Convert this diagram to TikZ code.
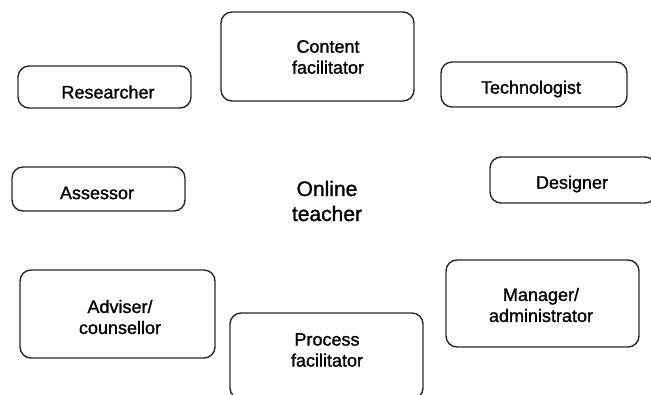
\documentclass[tikz,border=0pt]{standalone}
\usepackage{fontspec}
\setmainfont{Liberation Sans}
\newfontfamily\lblfont{Liberation Sans}[FakeBold=1.2]
\begin{document}
\begin{tikzpicture}[x=1pt,y=-1pt,
  box/.style={draw=black!85, line width=1.4pt, rounded corners=11pt, inner sep=0pt},
  lbl/.style={align=center, font=\lblfont\fontsize{18}{21}\selectfont, text=black, inner sep=0pt},
  big/.style={align=center, font=\lblfont\fontsize{21}{25}\selectfont, text=black, inner sep=0pt}]
\useasboundingbox (0,0) rectangle (651,394);
\clip (0,0) rectangle (651,394);
% boxes
\node[box, minimum width=193pt, minimum height=89pt] (content) at (317.5,56.5) {};
\node[box, minimum width=173pt, minimum height=42pt] (research) at (104.5,87) {};
\node[box, minimum width=186pt, minimum height=45pt] (techno) at (534,84.5) {};
\node[box, minimum width=173pt, minimum height=44pt] (assess) at (98.5,189) {};
\node[box, minimum width=166pt, minimum height=46pt] (design) at (573,180) {};
\node[box, minimum width=195pt, minimum height=88pt] (advise) at (117.5,314) {};
\node[box, minimum width=193pt, minimum height=87pt] (manage) at (542.5,303.5) {};
\node[box, minimum width=193pt, minimum height=86pt] (process) at (326.5,356) {};
% labels
\node[lbl] (content-t) at (328,57) {Content\\facilitator};
\node[lbl] (research-t) at (108,92) {Researcher};
\node[lbl] (techno-t) at (531,89) {Technologist};
\node[lbl] (assess-t) at (97,193) {Assessor};
\node[lbl] (design-t) at (572,184) {Designer};
\node[big] (online-t) at (327,201) {Online\\teacher};
\node[lbl] (advise-t) at (120,317) {Adviser/\\counsellor};
\node[lbl] (manage-t) at (541,305) {Manager/\\administrator};
\node[lbl] (process-t) at (327,350) {Process\\facilitator};
\end{tikzpicture}
\end{document}
